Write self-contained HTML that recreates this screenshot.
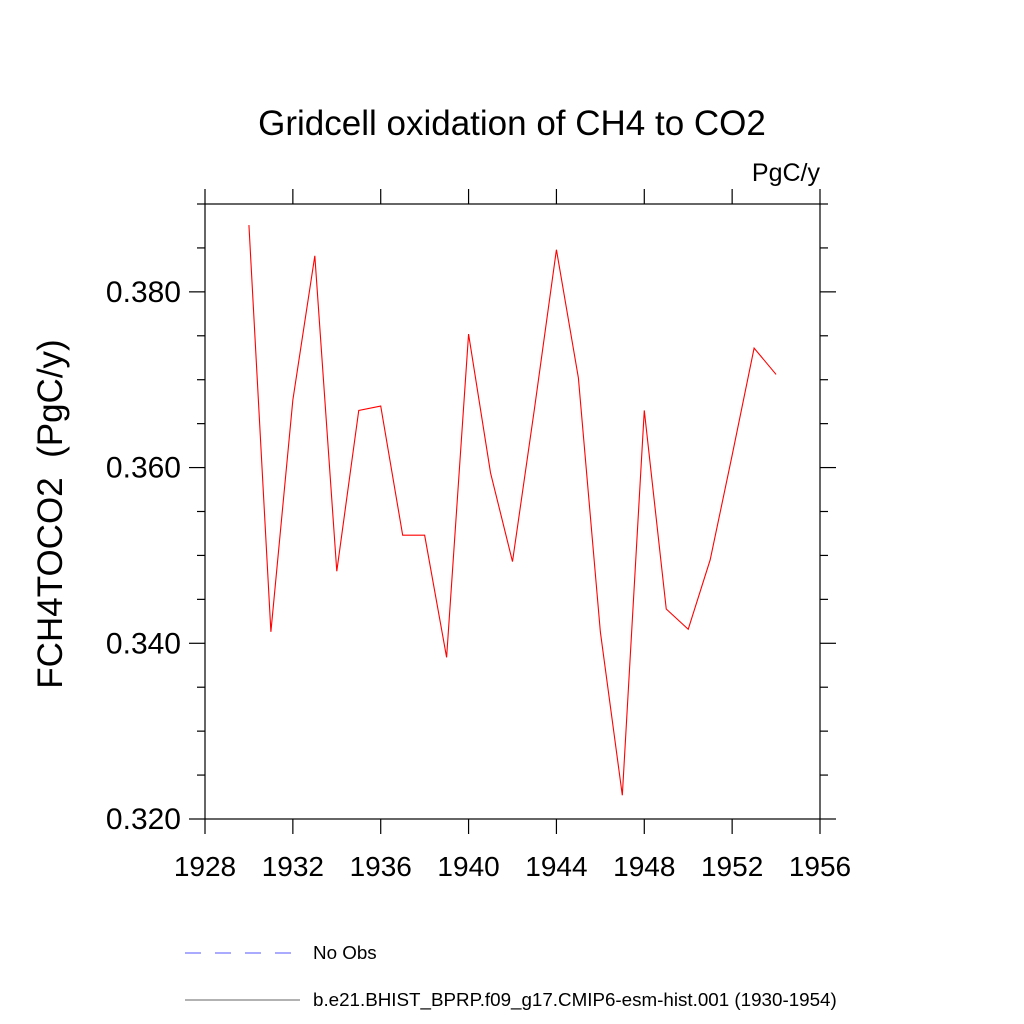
<!DOCTYPE html>
<html><head><meta charset="utf-8"><style>body{margin:0;background:#fff}svg{display:block;font-family:"Liberation Sans",sans-serif}</style></head>
<body>
<svg id="chart" width="1024" height="1024" xmlns="http://www.w3.org/2000/svg">
<text x="512" y="135" font-size="35" text-anchor="middle">Gridcell oxidation of CH4 to CO2</text>
<text x="820" y="181" font-size="25" text-anchor="end">PgC/y</text>
<text transform="translate(62,514) rotate(-90)" font-size="35" text-anchor="middle">FCH4TOCO2&#160;&#160;(PgC/y)</text>
<g id="ticks"></g>
<rect x="205" y="204" width="615" height="615" fill="none" stroke="#000" stroke-width="1.2"/>
<polyline id="series" fill="none" stroke="#f00" stroke-width="1.1"/>
<line x1="185" y1="953" x2="292" y2="953" stroke="#55f" stroke-dasharray="16,14"/>
<text x="313" y="959" font-size="18.8">No Obs</text>
<line x1="185" y1="1000" x2="300" y2="1000" stroke="#666"/>
<text x="313" y="1006" font-size="18.8">b.e21.BHIST_BPRP.f09_g17.CMIP6-esm-hist.001 (1930-1954)</text>
</svg>
<script>
const years=[1930,1931,1932,1933,1934,1935,1936,1937,1938,1939,1940,1941,1942,1943,1944,1945,1946,1947,1948,1949,1950,1951,1952,1953,1954];
const values=[0.3876,0.3413,0.3677,0.3841,0.3482,0.3665,0.3670,0.3523,0.3523,0.3384,0.3752,0.3594,0.3493,0.3667,0.3848,0.3702,0.3413,0.3227,0.3665,0.3439,0.3416,0.3495,0.3614,0.3736,0.3706];
const xTicks=[1928,1932,1936,1940,1944,1948,1952,1956];
const yTicks=[0.320,0.340,0.360,0.380];
const NS="http://www.w3.org/2000/svg";
const x=v=>205+(v-1928)/28*615;
const y=v=>819-(v-0.32)/0.07*615;
document.getElementById('series').setAttribute('points',years.map((yr,i)=>x(yr)+','+y(values[i])).join(' '));
const g=document.getElementById('ticks');
function ln(x1,y1,x2,y2){const l=document.createElementNS(NS,'line');l.setAttribute('x1',x1);l.setAttribute('y1',y1);l.setAttribute('x2',x2);l.setAttribute('y2',y2);l.setAttribute('stroke','#000');l.setAttribute('stroke-width','1.2');


g.appendChild(l);}
function tx(s,X,Y,a,fs){const t=document.createElementNS(NS,'text');t.setAttribute('x',X);t.setAttribute('y',Y);t.setAttribute('font-size',fs);t.setAttribute('text-anchor',a);t.textContent=s;


g.appendChild(t);}
xTicks.forEach(v=>{ln(x(v),819,x(v),834);ln(x(v),204,x(v),189);tx(String(v),x(v),876,'middle','28');});
yTicks.forEach(v=>{ln(205,y(v),189,y(v));ln(820,y(v),836,y(v));tx(v.toFixed(3),181,y(v)+10,'end','30');});
for(let k=0;k<=14;k++){const v=0.32+k*0.005;if(k%4){ln(205,y(v),197,y(v));ln(820,y(v),828,y(v));}}
</script>
</body></html>
